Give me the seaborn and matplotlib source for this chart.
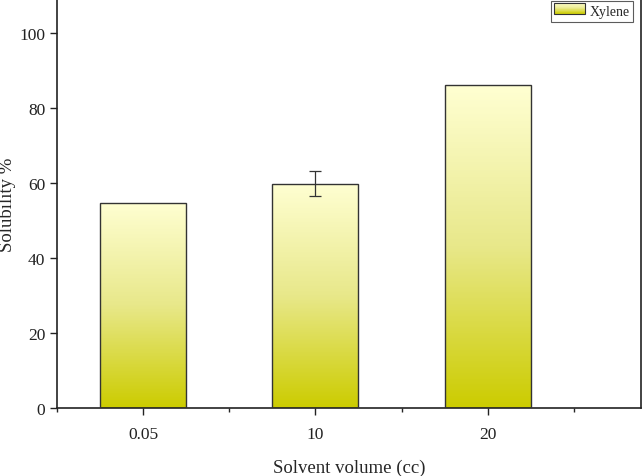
import numpy as np
import pandas as pd
import matplotlib.pyplot as plt
import seaborn as sns
from matplotlib.colors import LinearSegmentedColormap
from matplotlib.legend_handler import HandlerBase
from matplotlib.patches import Rectangle

# Data
volumes = ['0.05', '10', '20']
solubility = [54.7, 59.8, 86.0]
errors = [0.0, 3.4, 0.0]

sns.set_style('ticks')
plt.rcParams['font.family'] = ['Liberation Serif', 'DejaVu Serif']

data = pd.DataFrame({'volume': volumes, 'solubility': solubility})

grad = LinearSegmentedColormap.from_list('xyl', ['#cccc00', '#e8e88a', '#ffffd2'])

fig = plt.figure(figsize=(6.42, 4.77), dpi=100)
ax = fig.add_axes([57 / 642, 1 - 409 / 477, 584 / 642, 409 / 477])

sns.barplot(data=data, x='volume', y='solubility', width=0.5, color='#e8e88a',
            edgecolor='#333333', linewidth=1.0, ax=ax, zorder=2)

# vertical gradient fill inside each bar
gimg = np.linspace(0, 1, 256).reshape(-1, 1)
for p in ax.patches:
    x0, y0 = p.get_x(), p.get_y()
    w, h = p.get_width(), p.get_height()
    im = ax.imshow(gimg, cmap=grad, origin='lower', aspect='auto',
                   extent=[x0, x0 + w, y0, y0 + h], zorder=2.5,
                   vmin=0, vmax=1)
    im.set_clip_path(p)
    p.set_facecolor('none')
    p.set_zorder(3)
ax.set_xlim(-0.5, 2.89)
ax.set_ylim(0, 109)

centers = [p.get_x() + p.get_width() / 2 for p in ax.patches]
for cx, val, err in zip(centers, solubility, errors):
    if err > 0:
        ax.errorbar(cx, val, yerr=err, color='#333333', elinewidth=0.9,
                    capsize=4, capthick=0.9, zorder=4)


class GradientHandler(HandlerBase):
    def create_artists(self, legend, orig_handle, xdescent, ydescent,
                       width, height, fontsize, trans):
        n = 20
        arts = []
        for i in range(n):
            r = Rectangle((xdescent, ydescent + height * i / n), width, height / n,
                          facecolor=grad(i / (n - 1)), edgecolor='none',
                          transform=trans)
            arts.append(r)
        arts.append(Rectangle((xdescent, ydescent), width, height,
                              facecolor='none', edgecolor='#333333',
                              linewidth=0.8, transform=trans))
        return arts


handle = Rectangle((0, 0), 1, 1)
leg = ax.legend([handle], ['Xylene'], handler_map={Rectangle: GradientHandler()},
                loc='upper right', bbox_to_anchor=(0.9865, 0.995), fontsize=10,
                frameon=True, fancybox=False, edgecolor='#333333',
                handlelength=2.2, handleheight=0.9, borderpad=0.25,
                handletextpad=0.35, borderaxespad=0.0)
leg.get_frame().set_linewidth(0.8)

ax.set_yticks([0, 20, 40, 60, 80, 100])
ax.set_xticks([-0.5, 0.5, 1.5, 2.5], minor=True)
ax.tick_params(axis='both', which='major', direction='out', length=5,
               width=1, labelsize=12.5, colors='#222222')
ax.tick_params(axis='x', which='minor', direction='out', length=3, width=1)
ax.tick_params(axis='x', pad=8)

for s in ax.spines.values():
    s.set_linewidth(1.2)
    s.set_color('#222222')

ax.set_xlabel('Solvent volume (cc)', fontsize=13.5, labelpad=12)
ax.set_ylabel('Solubility %', fontsize=13.5, labelpad=2)

plt.savefig('out.png', dpi=100)
